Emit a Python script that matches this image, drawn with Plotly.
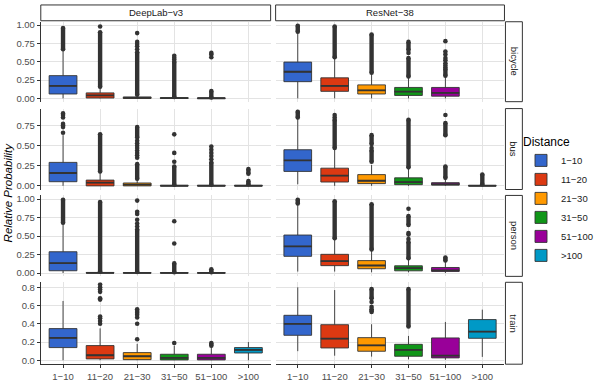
import plotly.graph_objects as go
from plotly.subplots import make_subplots

CATEGORIES = ["1−10", "11−20", "21−30", "31−50", "51−100", ">100"]
COLORS = ["#3366CC", "#DC3912", "#FF9900", "#109618", "#990099", "#0099C6"]
MODELS = ["DeepLab−v3", "ResNet−38"]
CLASSES = ["bicycle", "bus", "person", "train"]

# box stats: (category index, lower whisker, q1, median, q3, upper whisker)
# runs: dense outlier stretches (category index, from, to)
# pts: single outliers (category index, value)

deeplab_bicycle_box = [
    (0, 0.0, 0.06, 0.17, 0.31, 0.66),
    (1, 0.0, 0.005, 0.04, 0.075, 0.15),
    (2, 0.0, 0.0, 0.008, 0.02, 0.045),
    (3, 0.0, 0.0, 0.003, 0.01, 0.02),
    (4, 0.0, 0.0, 0.002, 0.005, 0.01),
]
deeplab_bicycle_runs = [(0, 0.67, 0.96), (1, 0.16, 0.90), (2, 0.05, 0.63),
                        (3, 0.02, 0.50), (4, 0.012, 0.10)]
deeplab_bicycle_pts = [(1, 0.98), (2, 0.67), (2, 0.71), (2, 0.74), (2, 0.77), (2, 0.89),
                       (3, 0.53), (3, 0.555), (3, 0.58), (4, 0.56), (4, 0.60), (4, 0.62)]

resnet_bicycle_box = [
    (0, 0.0, 0.228, 0.363, 0.495, 0.89),
    (1, 0.0, 0.096, 0.17, 0.28, 0.55),
    (2, 0.0, 0.06, 0.11, 0.184, 0.34),
    (3, 0.0, 0.04, 0.092, 0.149, 0.285),
    (4, 0.0, 0.03, 0.074, 0.149, 0.30),
]
resnet_bicycle_runs = [(0, 0.91, 0.99), (1, 0.56, 0.98), (2, 0.35, 0.87),
                       (3, 0.30, 0.55), (3, 0.66, 0.77), (4, 0.31, 0.40)]
resnet_bicycle_pts = [(3, 0.62), (4, 0.42), (4, 0.45), (4, 0.48), (4, 0.52), (4, 0.55),
                      (4, 0.60), (4, 0.64), (4, 0.78)]

deeplab_bus_box = [
    (0, 0.0, 0.052, 0.16, 0.292, 0.63),
    (1, 0.0, 0.0, 0.04, 0.072, 0.17),
    (2, 0.0, 0.0, 0.015, 0.036, 0.08),
    (3, 0.0, 0.0, 0.002, 0.006, 0.012),
    (4, 0.0, 0.0, 0.002, 0.006, 0.012),
    (5, 0.0, 0.0, 0.002, 0.006, 0.012),
]
deeplab_bus_runs = [(1, 0.18, 0.64), (2, 0.09, 0.27), (2, 0.60, 0.73), (3, 0.015, 0.24),
                    (4, 0.015, 0.29), (5, 0.02, 0.06), (5, 0.15, 0.21)]
deeplab_bus_pts = [(0, 0.66), (0, 0.73), (0, 0.75), (0, 0.77), (0, 0.85), (0, 0.88), (0, 0.90),
                   (2, 0.35), (2, 0.38), (2, 0.41), (2, 0.44), (2, 0.47), (2, 0.50), (2, 0.53),
                   (2, 0.56), (3, 0.30), (3, 0.41), (3, 0.64), (4, 0.33), (4, 0.37), (4, 0.41),
                   (4, 0.45), (4, 0.49)]

resnet_bus_box = [
    (0, 0.02, 0.18, 0.316, 0.449, 0.84),
    (1, 0.0, 0.048, 0.128, 0.22, 0.46),
    (2, 0.0, 0.028, 0.064, 0.14, 0.26),
    (3, 0.0, 0.015, 0.048, 0.10, 0.22),
    (4, 0.0, 0.01, 0.02, 0.04, 0.09),
    (5, 0.0, 0.0, 0.002, 0.005, 0.012),
]
resnet_bus_runs = [(0, 0.85, 0.92), (1, 0.47, 0.82), (2, 0.30, 0.44), (2, 0.52, 0.63),
                   (3, 0.23, 0.82), (4, 0.10, 0.24), (4, 0.63, 0.78), (5, 0.02, 0.14)]
resnet_bus_pts = [(1, 0.85), (1, 0.88), (2, 0.47), (4, 0.88)]

deeplab_person_box = [
    (0, 0.0, 0.031, 0.133, 0.288, 0.67),
    (1, 0.0, 0.0, 0.002, 0.008, 0.015),
    (2, 0.0, 0.0, 0.001, 0.005, 0.01),
    (3, 0.0, 0.0, 0.001, 0.004, 0.008),
    (4, 0.0, 0.0, 0.001, 0.003, 0.006),
]
deeplab_person_runs = [(0, 0.68, 0.99), (1, 0.02, 0.96), (2, 0.015, 0.59),
                       (3, 0.012, 0.13), (4, 0.01, 0.05)]
deeplab_person_pts = [(2, 0.63), (2, 0.67), (2, 0.72), (2, 0.80), (2, 0.83), (2, 0.98),
                      (3, 0.40), (3, 0.70)]

resnet_person_box = [
    (0, 0.02, 0.226, 0.36, 0.514, 0.93),
    (1, 0.02, 0.10, 0.16, 0.253, 0.46),
    (2, 0.01, 0.058, 0.102, 0.168, 0.31),
    (3, 0.01, 0.03, 0.066, 0.098, 0.19),
    (4, 0.0, 0.022, 0.035, 0.075, 0.16),
]
resnet_person_runs = [(0, 0.94, 0.99), (1, 0.47, 0.97), (2, 0.32, 0.93), (3, 0.20, 0.42),
                      (3, 0.65, 0.77), (4, 0.17, 0.21)]
resnet_person_pts = [(3, 0.46), (3, 0.52), (3, 0.54), (3, 0.87)]

deeplab_train_box = [
    (0, 0.0, 0.139, 0.245, 0.347, 0.65),
    (1, 0.0, 0.015, 0.055, 0.161, 0.35),
    (2, 0.0, 0.007, 0.044, 0.084, 0.18),
    (3, 0.0, 0.004, 0.026, 0.066, 0.16),
    (4, 0.0, 0.004, 0.026, 0.066, 0.15),
    (5, 0.0, 0.08, 0.113, 0.139, 0.20),
]
deeplab_train_runs = [(4, 0.16, 0.19)]
deeplab_train_pts = [(1, 0.40), (1, 0.43), (1, 0.46), (1, 0.48), (1, 0.665), (1, 0.68),
                     (1, 0.75), (1, 0.775), (1, 0.80), (1, 0.83), (2, 0.23), (2, 0.40),
                     (2, 0.47), (2, 0.50), (2, 0.52), (2, 0.54), (2, 0.56), (3, 0.19)]

resnet_train_box = [
    (0, 0.10, 0.274, 0.40, 0.493, 0.80),
    (1, 0.05, 0.135, 0.237, 0.39, 0.77),
    (2, 0.04, 0.099, 0.164, 0.248, 0.395),
    (3, 0.01, 0.044, 0.113, 0.175, 0.267),
    (4, 0.005, 0.026, 0.051, 0.245, 0.42),
    (5, 0.037, 0.241, 0.314, 0.446, 0.555),
]
resnet_train_runs = [(2, 0.53, 0.56), (2, 0.68, 0.78), (3, 0.37, 0.78)]
resnet_train_pts = [(2, 0.585), (2, 0.64)]

PANELS = {
    (0, 0): (deeplab_bicycle_box, deeplab_bicycle_runs, deeplab_bicycle_pts),
    (0, 1): (resnet_bicycle_box, resnet_bicycle_runs, resnet_bicycle_pts),
    (1, 0): (deeplab_bus_box, deeplab_bus_runs, deeplab_bus_pts),
    (1, 1): (resnet_bus_box, resnet_bus_runs, resnet_bus_pts),
    (2, 0): (deeplab_person_box, deeplab_person_runs, deeplab_person_pts),
    (2, 1): (resnet_person_box, resnet_person_runs, resnet_person_pts),
    (3, 0): (deeplab_train_box, deeplab_train_runs, deeplab_train_pts),
    (3, 1): (resnet_train_box, resnet_train_runs, resnet_train_pts),
}

Y_RANGES = [(-0.045, 1.045), (-0.045, 0.96), (-0.045, 1.05), (-0.043, 0.855)]
Y_TICKS = [[0, 0.25, 0.5, 0.75, 1.0], [0, 0.25, 0.5, 0.75],
           [0, 0.25, 0.5, 0.75, 1.0], [0, 0.2, 0.4, 0.6, 0.8]]
Y_FORMAT = [".2f", ".2f", ".2f", ".1f"]

# ── geometry (pixels) ────────────────────────────────────────────────────────
W, H = 598, 382
COL_PX = [(41, 272), (277, 507)]
ROW_PX = [(20, 101), (108, 190), (196, 278), (284, 367)]
FONT = "Liberation Sans, Arial, sans-serif"
DARK = "#333333"
GRID = "#e3e3e3"


def fx(p):
    return p / W


def fy(p):
    return 1 - p / H


fig = make_subplots(rows=4, cols=2)
seen = set()

for (r, c), (boxes, runs, pts) in PANELS.items():
    row, col = r + 1, c + 1
    for ci, lo, q1, med, q3, hi in boxes:
        fig.add_trace(go.Box(
            x=[CATEGORIES[ci]], q1=[q1], median=[med], q3=[q3],
            lowerfence=[lo], upperfence=[hi],
            fillcolor=COLORS[ci], line=dict(color=DARK, width=0.9),
            whiskerwidth=0, width=0.75, boxpoints=False,
            name=CATEGORIES[ci], legendgroup=CATEGORIES[ci],
            showlegend=ci not in seen, hoverinfo="skip",
        ), row=row, col=col)
        seen.add(ci)
        # thicker median bar, as ggplot draws it
        fig.add_trace(go.Box(
            x=[CATEGORIES[ci]], q1=[med], median=[med], q3=[med],
            lowerfence=[med], upperfence=[med],
            fillcolor=DARK, line=dict(color=DARK, width=1.8),
            whiskerwidth=0, width=0.75, boxpoints=False,
            showlegend=False, hoverinfo="skip",
        ), row=row, col=col)

    rx, ry = [], []
    for ci, a, b in runs:
        rx += [CATEGORIES[ci], CATEGORIES[ci], None]
        ry += [a, b, None]
    if rx:
        fig.add_trace(go.Scatter(
            x=rx, y=ry, mode="lines+markers",
            line=dict(color=DARK, width=4.4), marker=dict(color=DARK, size=4.6),
            showlegend=False, hoverinfo="skip",
        ), row=row, col=col)
    if pts:
        fig.add_trace(go.Scatter(
            x=[CATEGORIES[ci] for ci, _ in pts], y=[v for _, v in pts], mode="markers",
            marker=dict(color=DARK, size=4.6),
            showlegend=False, hoverinfo="skip",
        ), row=row, col=col)

for r in range(4):
    for c in range(2):
        row, col = r + 1, c + 1
        fig.update_xaxes(
            domain=[fx(COL_PX[c][0]), fx(COL_PX[c][1])],
            type="category", categoryorder="array", categoryarray=CATEGORIES,
            range=[-0.6, 5.6], showgrid=True, gridcolor=GRID, gridwidth=1,
            zeroline=False, showticklabels=(r == 3),
            showline=(r == 3), linecolor=DARK, linewidth=1,
            ticks="outside" if r == 3 else "", ticklen=3, tickcolor=DARK,
            tickfont=dict(family=FONT, size=9.5, color="#4d4d4d"),
            row=row, col=col,
        )
        fig.update_yaxes(
            domain=[fy(ROW_PX[r][1]), fy(ROW_PX[r][0])],
            range=list(Y_RANGES[r]), tickvals=Y_TICKS[r], tickformat=Y_FORMAT[r],
            showgrid=True, gridcolor=GRID, gridwidth=1, zeroline=False,
            showticklabels=(c == 0), showline=(c == 0), linecolor=DARK, linewidth=1,
            ticks="outside" if c == 0 else "", ticklen=3, tickcolor=DARK,
            tickfont=dict(family=FONT, size=9.5, color="#4d4d4d"),
            row=row, col=col,
        )

shapes, annotations = [], []
for c, model in enumerate(MODELS):
    x0, x1 = COL_PX[c]
    shapes.append(dict(type="rect", xref="paper", yref="paper",
                       x0=fx(x0), x1=fx(x1), y0=fy(19), y1=fy(3),
                       line=dict(color=DARK, width=1), fillcolor="white"))
    annotations.append(dict(text=model, xref="paper", yref="paper",
                            x=fx((x0 + x1) / 2), y=fy(11), showarrow=False,
                            xanchor="center", yanchor="middle",
                            font=dict(family=FONT, size=9.5, color="#1a1a1a")))
for r, cls in enumerate(CLASSES):
    y0, y1 = ROW_PX[r]
    shapes.append(dict(type="rect", xref="paper", yref="paper",
                       x0=fx(508), x1=fx(525), y0=fy(y1), y1=fy(y0),
                       line=dict(color=DARK, width=1), fillcolor="white"))
    annotations.append(dict(text=cls, xref="paper", yref="paper",
                            x=fx(516.5), y=fy((y0 + y1) / 2), showarrow=False,
                            xanchor="center", yanchor="middle", textangle=90,
                            font=dict(family=FONT, size=9.5, color="#1a1a1a")))

annotations.append(dict(text="<i>Relative Probability</i>", xref="paper", yref="paper",
                        x=fx(9), y=fy(193), showarrow=False, textangle=-90,
                        xanchor="center", yanchor="middle",
                        font=dict(family=FONT, size=11.5, color="black")))

fig.update_layout(
    width=W, height=H, margin=dict(l=0, r=0, t=0, b=0),
    paper_bgcolor="white", plot_bgcolor="white",
    boxmode="overlay", shapes=shapes, annotations=annotations,
    legend=dict(
        x=fx(524), y=fy(130), xanchor="left", yanchor="top",
        title=dict(text="Distance", font=dict(family=FONT, size=12, color="black")),
        font=dict(family=FONT, size=9.5, color="#1a1a1a"),
        tracegroupgap=0, itemwidth=30, bgcolor="rgba(0,0,0,0)",
    ),
)

# page body has a default 8px margin; drop it so the figure sits at 0,0
fig.write_html("out.html", config={"displayModeBar": False},
               post_script="document.body.style.margin='0';")
